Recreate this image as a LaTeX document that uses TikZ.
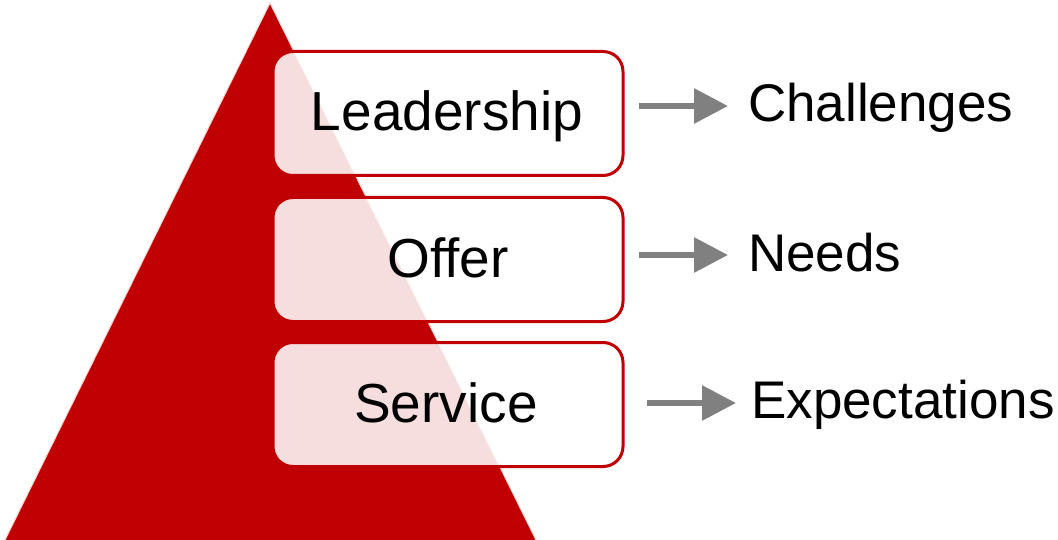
\documentclass[tikz,border=0pt]{standalone}
\usepackage{fontspec}
\setmainfont{Liberation Sans}
\usetikzlibrary{arrows.meta}
\definecolor{deepred}{HTML}{C00000}
\definecolor{halo}{HTML}{F4D6D6}
\definecolor{arrowgray}{HTML}{808080}
\tikzset{
  tier/.style={draw=deepred, line width=3pt, rounded corners=20pt,
    fill=white, fill opacity=0.87, text opacity=1, draw opacity=1,
    minimum width=350pt, minimum height=124pt, inner sep=0pt},
  tiertext/.style={font=\fontsize{55}{62}\selectfont, inner sep=0pt, anchor=base},
  result/.style={font=\fontsize{53}{60}\selectfont, inner sep=0pt, anchor=base west},
  link/.style={draw=arrowgray, line width=6pt,
    -{Triangle[length=34pt,width=34pt]}, shorten <=14pt, shorten >=20pt}
}
\begin{document}
\begin{tikzpicture}[x=1pt,y=-1pt]
\useasboundingbox (0,0) rectangle (1058,540);
% pyramid
\fill[deepred] (270,3) -- (537,542) -- (4,542) -- cycle;
\draw[halo, line width=1pt] (4,542) -- (270,3) -- (537,542);
% tiers
\node[tier] (lead) at (448,113.5) {};
\node[tier] (offer) at (448,259.5) {};
\node[tier] (serv) at (448,404.5) {};
\node[tiertext] (leadt) at (447,131) {Leadership};
\node[tiertext] (offert) at (448,278) {Offer};
\node[tiertext] (servt) at (446,422) {Service};
% results
\node[result] (chal) at (748,122) {Challenges};
\node[result] (needs) at (748,272) {Needs};
\node[result] (expe) at (751,418) {Expectations};
% links
\draw[link] (lead.east |- 0,106) -- (chal.west |- 0,106);
\draw[link] (offer.east |- 0,255) -- (needs.west |- 0,255);
\draw[link, shorten <=22pt, shorten >=15pt] (serv.east |- 0,403) -- (expe.west |- 0,403);
\end{tikzpicture}
\end{document}
